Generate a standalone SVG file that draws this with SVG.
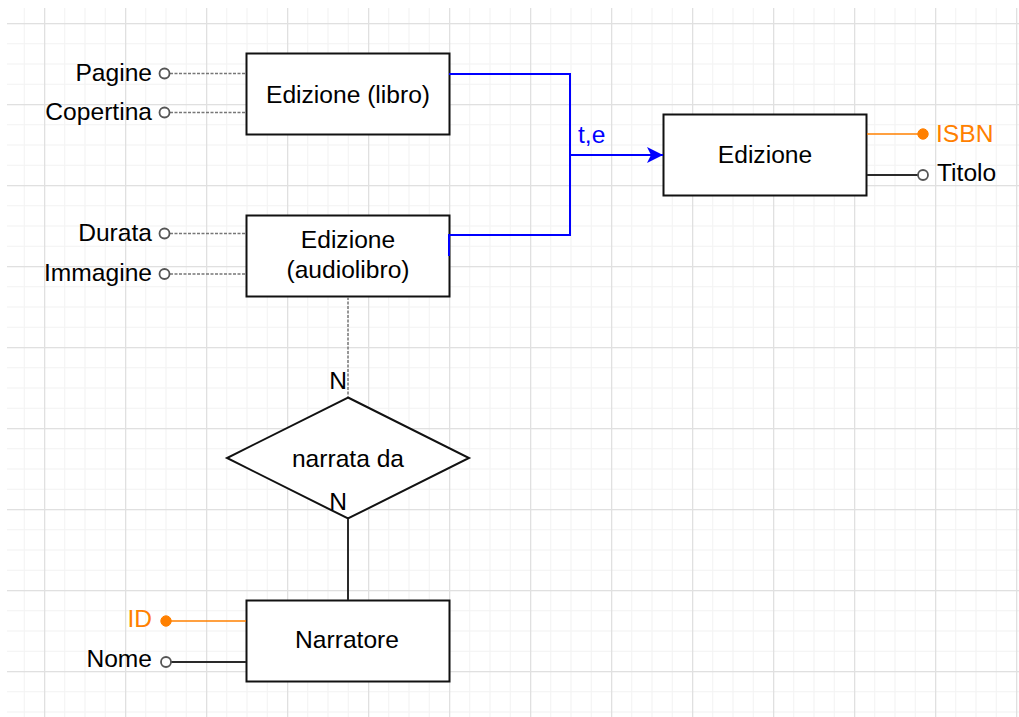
<svg xmlns="http://www.w3.org/2000/svg" width="1019" height="717" viewBox="0 0 1019 717">
  <style>
    .t { font-family: "Liberation Sans", Arial, sans-serif; font-size: 24.6px; fill: #000; }
    .mid { text-anchor: middle; }
    .end { text-anchor: end; }
    .orange { fill: #ff8000; }
    .blue { fill: #0000ff; }
    .box { fill: #fff; stroke: #111; stroke-width: 2; }
    .dash { fill: none; stroke: #777; stroke-width: 1.5; stroke-dasharray: 3 1.5; }
    .solid { fill: none; stroke: #2a2a2a; stroke-width: 2; }
    .oline { fill: none; stroke: #ff8000; stroke-width: 1.6; }
    .bline { fill: none; stroke: #0000ff; stroke-width: 2; }
    .open { fill: #fff; stroke: #555; stroke-width: 1.8; }
    .key { fill: #ff8000; stroke: #ff8000; stroke-width: 1; }
  </style>
  <defs>
    <pattern id="grid" patternUnits="userSpaceOnUse" x="44" y="23" width="81" height="81">
      <rect x="20.25" y="0" width="1" height="81" fill="#f2f2f2"/>
      <rect x="40.5" y="0" width="1" height="81" fill="#f2f2f2"/>
      <rect x="60.75" y="0" width="1" height="81" fill="#f2f2f2"/>
      <rect x="0" y="20.25" width="81" height="1" fill="#f2f2f2"/>
      <rect x="0" y="40.5" width="81" height="1" fill="#f2f2f2"/>
      <rect x="0" y="60.75" width="81" height="1" fill="#f2f2f2"/>
      <rect x="0" y="0" width="1.3" height="81" fill="#e0e0e0"/>
      <rect x="0" y="0" width="81" height="1.3" fill="#e0e0e0"/>
    </pattern>
    <marker id="arrow" markerUnits="userSpaceOnUse" viewBox="0 0 16 16" refX="16" refY="8" markerWidth="16" markerHeight="16" orient="auto">
      <path d="M0,0 L16,8 L0,16 L4,8 Z" fill="#0000ff"/>
    </marker>
  </defs>

  <rect x="0" y="0" width="1019" height="717" fill="#fff"/>
  <rect x="7" y="8" width="1012" height="709" fill="url(#grid)"/>

  <g id="edizione-libro">
    <rect class="box" x="246.5" y="53.5" width="203" height="81"/>
    <text class="t mid" x="348" y="103">Edizione (libro)</text>
  </g>

  <g id="edizione-audiolibro">
    <rect class="box" x="246.5" y="215.5" width="203" height="81"/>
    <text class="t mid" x="348" y="248">Edizione</text>
    <text class="t mid" x="348" y="278">(audiolibro)</text>
  </g>

  <g id="edizione">
    <rect class="box" x="663.5" y="114.5" width="203" height="81"/>
    <text class="t mid" x="765" y="163">Edizione</text>
  </g>

  <g id="narrata-da">
    <polygon class="box" points="348,397.5 469,458 348,518.5 227,458"/>
    <text class="t mid" x="348" y="467">narrata da</text>
  </g>

  <g id="narratore">
    <rect class="box" x="246.5" y="600.5" width="203" height="81"/>
    <text class="t mid" x="347" y="648">Narratore</text>
  </g>

  <g id="connectors">
    <path class="dash" d="M170,73.5 H246"/>
    <path class="dash" d="M170,112.5 H246"/>
    <path class="dash" d="M170,233.5 H246"/>
    <path class="dash" d="M170,274 H246"/>
    <path class="dash" d="M348,297 V397"/>
    <path class="solid" d="M348,519 V600"/>
    <path class="oline" d="M166,621 H246"/>
    <path class="solid" d="M171,662 H246"/>
    <path class="oline" d="M867,134 H923"/>
    <path class="solid" d="M867,175 H918"/>
    <path class="bline" d="M449,256 V235 H570 V74 H449"/>
    <path class="bline" d="M570,155 H663" marker-end="url(#arrow)"/>
    <text class="t blue" x="578" y="143">t,e</text>
    <text class="t end" x="347" y="389">N</text>
    <text class="t end" x="347" y="510">N</text>
  </g>

  <g id="attr-pagine">
    <circle class="open" cx="164.5" cy="73.5" r="5"/>
    <text class="t end" x="152" y="81">Pagine</text>
  </g>
  <g id="attr-copertina">
    <circle class="open" cx="164.5" cy="112.5" r="5"/>
    <text class="t end" x="152" y="120">Copertina</text>
  </g>
  <g id="attr-durata">
    <circle class="open" cx="164.5" cy="233.5" r="5"/>
    <text class="t end" x="152" y="241">Durata</text>
  </g>
  <g id="attr-immagine">
    <circle class="open" cx="164.5" cy="274" r="5"/>
    <text class="t end" x="152" y="281">Immagine</text>
  </g>
  <g id="attr-id">
    <circle class="key" cx="166" cy="621" r="5.2"/>
    <text class="t end orange" x="152" y="627">ID</text>
  </g>
  <g id="attr-nome">
    <circle class="open" cx="166" cy="662" r="5"/>
    <text class="t end" x="152" y="667">Nome</text>
  </g>
  <g id="attr-isbn">
    <circle class="key" cx="923" cy="134" r="5.2"/>
    <text class="t orange" x="936" y="142">ISBN</text>
  </g>
  <g id="attr-titolo">
    <circle class="open" cx="923" cy="175" r="5"/>
    <text class="t" x="937" y="181">Titolo</text>
  </g>
</svg>
